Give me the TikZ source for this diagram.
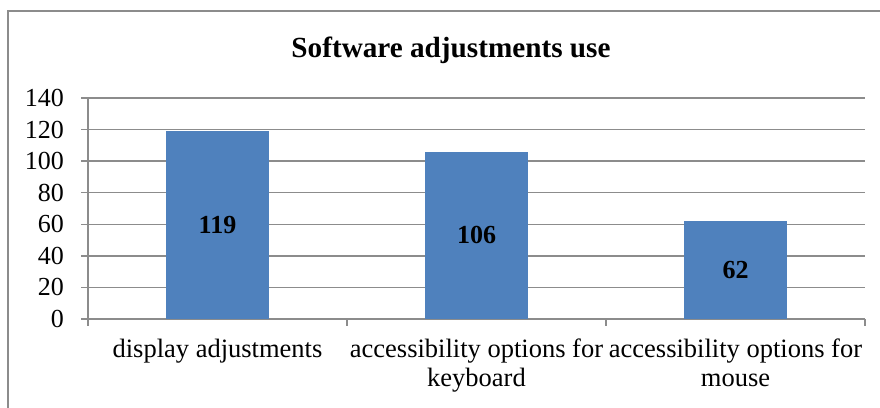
\documentclass[tikz,border=0pt]{standalone}
\usepackage{fontspec}
\setmainfont{Liberation Serif}
\usetikzlibrary{positioning}
\definecolor{barblue}{HTML}{4F81BD}
\definecolor{gridgray}{HTML}{8C8C8C}
\tikzset{
  gridline/.style={draw=gridgray,line width=1.5pt},
  bar/.style={fill=barblue,draw=none},
  ticklabel/.style={font=\fontsize{26}{28}\selectfont,inner sep=0pt,anchor=east},
  catlabel/.style={font=\fontsize{26.5}{28.5}\selectfont,inner sep=0pt,align=center,anchor=north},
  valuelabel/.style={font=\fontsize{26}{28}\selectfont\bfseries,inner sep=0pt},
  titlelabel/.style={font=\fontsize{29.2}{34}\selectfont\bfseries,inner sep=0pt,anchor=base},
}

\begin{document}
\begin{tikzpicture}[x=1pt,y=-1pt]
\useasboundingbox (0,0) rectangle (880,407);
% outer frame, cut at the right and bottom
\draw[gridgray,line width=1.2pt] (8,430) -- (8,11) -- (900,11);
\node[titlelabel] (title) at (451,57) {Software adjustments use};
\begin{scope}[shift={(0,319)},yscale=-1.5786]
\foreach \v in {0,20,...,140}{
  \draw[gridline] (81,\v) -- (865,\v);
  \node[ticklabel] (tick\v) at (64,\v) {\v};
}
\draw[gridline] (88,140) -- (88,-4.5);
\foreach \i in {1,2,3}
  \draw[gridline] (88+259*\i,0) -- (88+259*\i,-4.5);
\foreach \v/\i in {119/0,106/1,62/2}{
  \fill[bar] ({166+259*\i},0) rectangle ({269+259*\i},\v);
  \node[valuelabel] (val\i) at ({217.5+259*\i},\v/2) {\v};
}
\end{scope}
\node[catlabel] (cat0) at (217.5,339) {display adjustments};
\node[catlabel] (cat1) at (476.5,339) {accessibility options for\\keyboard};
\node[catlabel] (cat2) at (735.5,339) {accessibility options for\\mouse};
\end{tikzpicture}
\end{document}
